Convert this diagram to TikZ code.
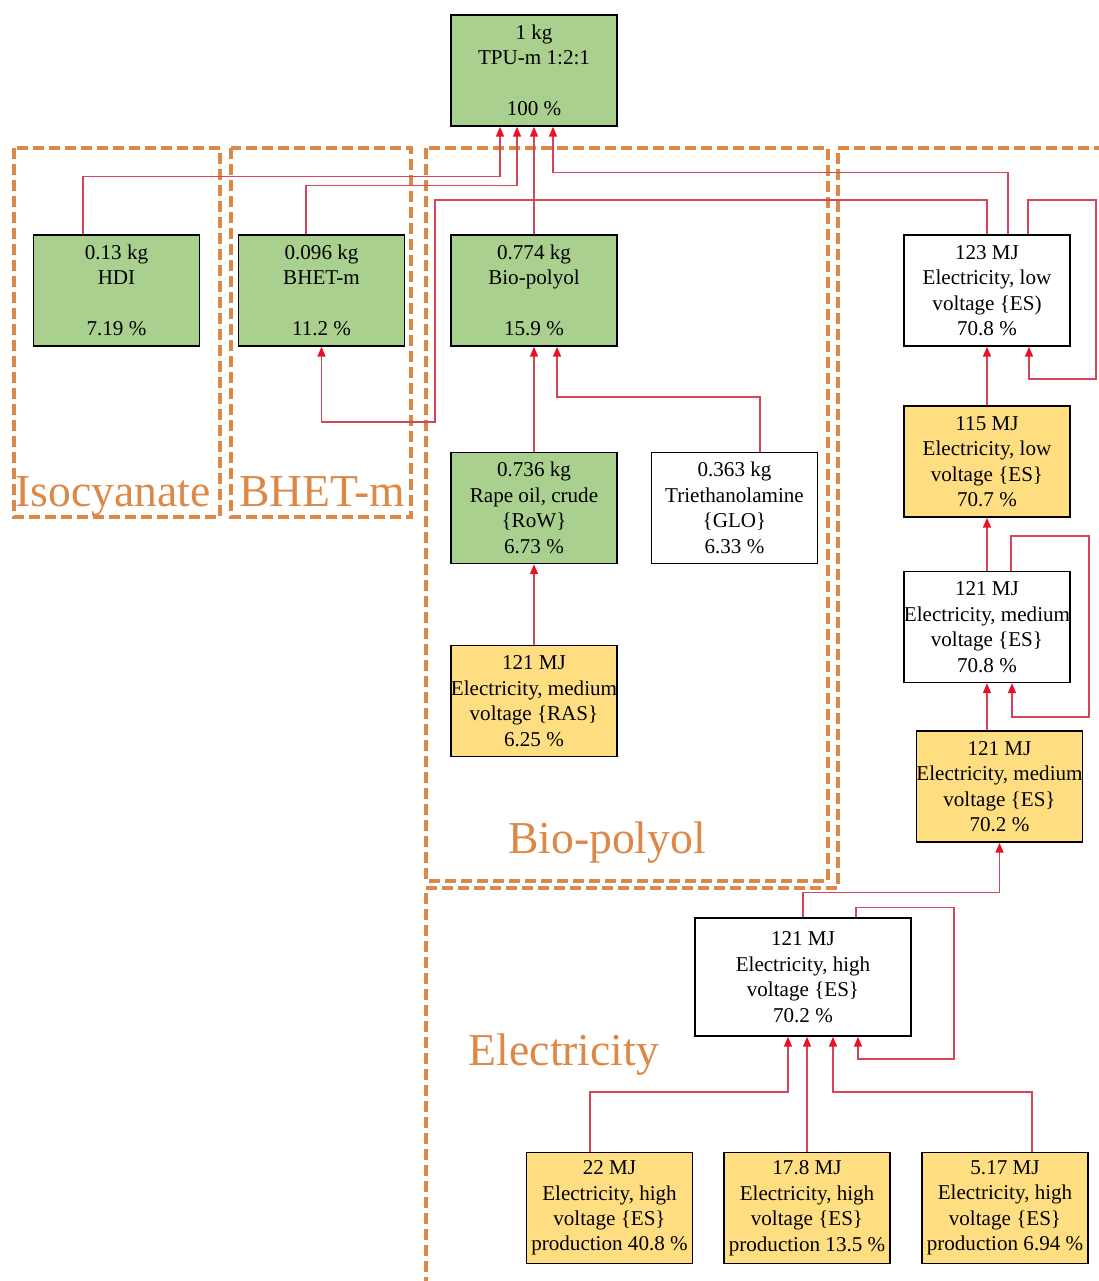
\documentclass[tikz,border=0pt]{standalone}
\usepackage{fontspec}
\setmainfont{Liberation Serif}
\usetikzlibrary{arrows.meta}
\definecolor{leafgreen}{RGB}{169,208,142}
\definecolor{sand}{RGB}{255,222,130}
\definecolor{groupline}{RGB}{222,136,72}
\definecolor{flowline}{RGB}{212,70,88}
\definecolor{tipred}{RGB}{232,18,36}
\tikzset{
  proc/.style={draw, fill=white, line width=0.8pt, align=center, inner sep=0pt,
    minimum width=3.32cm, minimum height=2.22cm, font=\fontsize{12}{14.5}\selectfont},
  matbox/.style={proc, fill=leafgreen},
  elecbox/.style={proc, fill=sand},
  flow/.style={draw=flowline, line width=0.9pt, -{Triangle[length=0.2cm, width=0.16cm, color=tipred]}},
  group/.style={draw=groupline, line width=2pt, dash pattern=on 0.22cm off 0.1cm},
  grouplabel/.style={text=groupline, font=\fontsize{26}{30}\selectfont, anchor=base}
}

\begin{document}
\begin{tikzpicture}
\useasboundingbox (0,0) rectangle (21.98,-25.62);
\draw[group] (0.28,-2.96) rectangle (4.40,-10.34);
\draw[group] (4.62,-2.96) rectangle (8.22,-10.34);
\draw[group] (8.52,-2.96) rectangle (16.56,-17.62);
\draw[group] (16.76,-2.96) -- (22.4,-2.96) -- (22.4,-26.2) -- (8.52,-26.2) -- (8.52,-17.76) -- (16.76,-17.76) -- cycle;
\node[grouplabel] (isolabel) at (2.26,-10.12) {Isocyanate};
\node[grouplabel] (bhetlabel) at (6.44,-10.12) {BHET-m};
\node[grouplabel] (biolabel) at (12.14,-17.06) {Bio-polyol};
\node[grouplabel] (eleclabel) at (11.28,-21.30) {Electricity};

\node[matbox] (tpu) at (10.68,-1.41) {1 kg\\TPU-m 1:2:1\\\strut\\100 \%};
\node[matbox] (hdi) at (2.33,-5.81) {0.13 kg\\HDI\\\strut\\7.19 \%};
\node[matbox] (bhet) at (6.43,-5.81) {0.096 kg\\BHET-m\\\strut\\11.2 \%};
\node[matbox] (biopol) at (10.68,-5.81) {0.774 kg\\Bio-polyol\\\strut\\15.9 \%};
\node[matbox] (rape) at (10.68,-10.16) {0.736 kg\\Rape oil, crude\\\{RoW\}\\6.73 \%};
\node[proc] (tea) at (14.69,-10.16) {0.363 kg\\Triethanolamine\\\{GLO\}\\6.33 \%};
\node[elecbox] (medras) at (10.68,-14.02) {121 MJ\\Electricity, medium\\voltage \{RAS\}\\6.25 \%};
\node[proc] (lowa) at (19.74,-5.81) {123 MJ\\Electricity, low\\voltage \{ES)\\70.8 \%};
\node[elecbox] (lowb) at (19.74,-9.23) {115 MJ\\Electricity, low\\voltage \{ES\}\\70.7 \%};
\node[proc] (meda) at (19.74,-12.54) {121 MJ\\Electricity, medium\\voltage \{ES\}\\70.8 \%};
\node[elecbox] (medb) at (19.99,-15.73) {121 MJ\\Electricity, medium\\voltage \{ES\}\\70.2 \%};
\node[proc, minimum width=4.32cm, minimum height=2.36cm] (high) at (16.06,-19.54) {121 MJ\\Electricity, high\\voltage \{ES\}\\70.2 \%};
\node[elecbox] (proda) at (12.19,-24.16) {22 MJ\\Electricity, high\\voltage \{ES\}\\production 40.8 \%};
\node[elecbox] (prodb) at (16.14,-24.16) {17.8 MJ\\Electricity, high\\voltage \{ES\}\\production 13.5 \%};
\node[elecbox] (prodc) at (20.10,-24.16) {5.17 MJ\\Electricity, high\\voltage \{ES\}\\production 6.94 \%};

\coordinate (bhetbend) at (8.70,-8.44);
\coordinate (lowloop) at (21.92,-7.58);
\coordinate (medloop) at (21.78,-14.34);
\coordinate (highloop) at (19.08,-21.18);

\draw[flow] ([xshift=-0.67cm]hdi.north) -- ++(0,1.16) -| ([xshift=-0.68cm]tpu.south);
\draw[flow] ([xshift=-0.31cm]bhet.north) -- ++(0,0.98) -| ([xshift=-0.34cm]tpu.south);
\draw[flow] (biopol.north) -- (tpu.south);
\draw[flow] ([xshift=0.42cm]lowa.north) -- ++(0,1.24) -| ([xshift=0.38cm]tpu.south);
\draw[flow] (lowa.north) -- ++(0,0.69) -| (bhetbend) -| (bhet.south);
\draw[flow] ([xshift=0.82cm]lowa.north) -- ++(0,0.69) -| (lowloop) -| ([xshift=0.84cm]lowa.south);
\draw[flow] (lowb.north) -- (lowa.south);
\draw[flow] (meda.north) -- (lowb.south);
\draw[flow] ([xshift=0.48cm]meda.north) -- ++(0,0.70) -| (medloop) -| ([xshift=0.50cm]meda.south);
\draw[flow] ([xshift=-0.25cm]medb.north) -- (meda.south);
\draw[flow] (rape.north) -- (biopol.south);
\draw[flow] ([xshift=0.51cm]tea.north) -- ++(0,1.10) -| ([xshift=0.46cm]biopol.south);
\draw[flow] (medras.north) -- (rape.south);
\draw[flow] (high.north) -- ++(0,0.50) -| (medb.south);
\draw[flow] ([xshift=1.06cm]high.north) -- ++(0,0.20) -| (highloop) -| ([xshift=1.10cm]high.south);
\draw[flow] ([xshift=-0.39cm]proda.north) -- ++(0,1.20) -| ([xshift=-0.30cm]high.south);
\draw[flow] (prodb.north) -- (prodb.north |- high.south);
\draw[flow] ([xshift=0.54cm]prodc.north) -- ++(0,1.20) -| ([xshift=0.60cm]high.south);

\end{tikzpicture}
\end{document}
